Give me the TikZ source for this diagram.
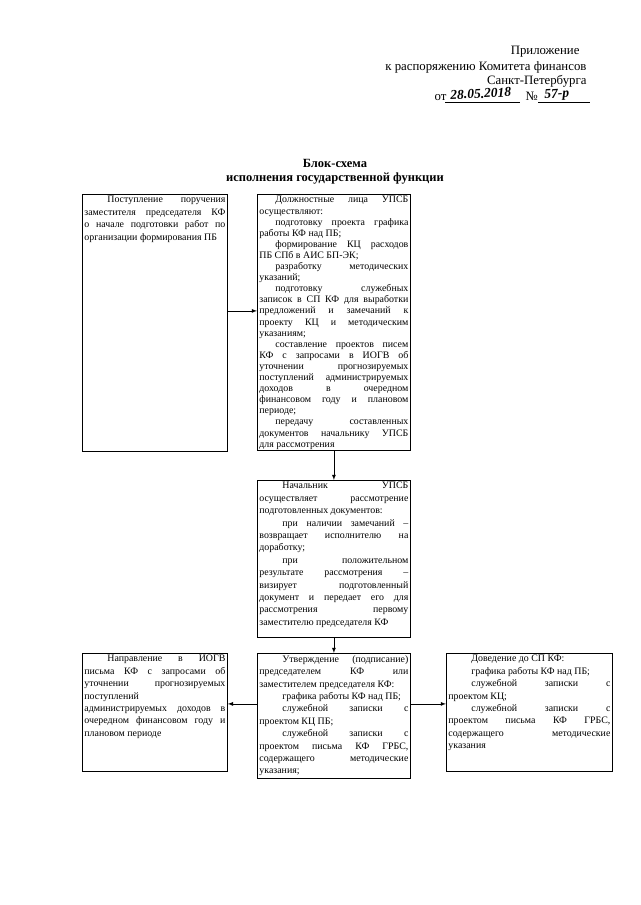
\documentclass[tikz,border=0pt]{standalone}
\usepackage{fontspec}
\setmainfont{Liberation Serif}
\newcommand{\abz}{\hspace*{23pt}}
\newcommand{\abzk}{\hspace*{16pt}}
\tolerance=10000
\hyphenpenalty=10000
\tikzset{
  blok/.style={draw, line width=0.8pt, anchor=north west, inner xsep=2pt, inner ysep=2pt,
    font=\fontsize{9.9}{12.4}\selectfont},
  strelka/.style={->, line width=0.8pt},
  shapka/.style={font=\fontsize{12.8}{15}\selectfont},
  ruka/.style={font=\fontsize{13.5}{15}\bfseries\itshape\selectfont}
}
\begin{document}
\begin{tikzpicture}[x=1pt,y=-1pt,>=latex]
  \useasboundingbox (0,0) rectangle (640,905);

  % shapka
  \node[shapka, anchor=base east] (pril) at (583,54) {Приложение};
  \node[shapka, anchor=base east] (rasp) at (590,70) {к распоряжению Комитета финансов};
  \node[shapka, anchor=base east] (spb) at (590,84) {Санкт-Петербурга};
  \node[shapka, anchor=base west] (ot) at (431,100) {от};
  \draw (445,102) -- (520,102);
  \node[ruka, anchor=base, rotate=3] (data) at (481,98) {28.05.2018};
  \node[shapka, anchor=base west] (nomer) at (522,100) {№};
  \draw (538,102) -- (590,102);
  \node[ruka, anchor=base, rotate=3] (nr) at (557,98) {57-р};

  \node[font=\fontsize{12.5}{14}\bfseries\selectfont, anchor=base] (zag1) at (335,167) {Блок-схема};
  \node[font=\fontsize{12.5}{14}\bfseries\selectfont, anchor=base] (zag2) at (335,181) {исполнения государственной функции};

  % bloki
  \node[blok] (post) at (82,194) {\parbox[t][253pt][t]{141pt}{%
    \abz Поступление поручения\linebreak заместителя председателя КФ\linebreak о начале подготовки работ по\linebreak организации формирования ПБ}};

  \node[blok, font=\fontsize{9.9}{11.1}\selectfont] (dolzh) at (257,194) {\parbox[t][252pt][t]{149pt}{%
    \abzk Должностные лица УПСБ\linebreak осуществляют:\par
    \abzk подготовку проекта графика\linebreak работы КФ над ПБ;\par
    \abzk формирование КЦ расходов\linebreak ПБ СПб в АИС БП-ЭК;\par
    \abzk разработку методических\linebreak указаний;\par
    \abzk подготовку служебных\linebreak записок в СП КФ для выработки\linebreak предложений и замечаний к\linebreak проекту КЦ и методическим\linebreak указаниям;\par
    \abzk составление проектов писем\linebreak КФ с запросами в ИОГВ об\linebreak уточнении прогнозируемых\linebreak поступлений администрируемых\linebreak доходов в очередном\linebreak финансовом году и плановом\linebreak периоде;\par
    \abzk передачу составленных\linebreak документов начальнику УПСБ\linebreak для рассмотрения}};

  \node[blok] (nach) at (257,480) {\parbox[t][153pt][t]{149pt}{%
    \abz Начальник УПСБ\linebreak осуществляет рассмотрение\linebreak подготовленных документов:\par
    \abz при наличии замечаний –\linebreak возвращает исполнителю на\linebreak доработку;\par
    \abz при положительном\linebreak результате рассмотрения –\linebreak визирует подготовленный\linebreak документ и передает его для\linebreak рассмотрения первому\linebreak заместителю председателя КФ}};

  \node[blok] (utv) at (257,653) {\parbox[t][121pt][t]{149pt}{%
    \abz Утверждение (подписание)\linebreak председателем КФ или\linebreak заместителем председателя КФ:\par
    \abz графика работы КФ над ПБ;\par
    \abz служебной записки с\linebreak проектом КЦ ПБ;\par
    \abz служебной записки с\linebreak проектом письма КФ ГРБС,\linebreak содержащего методические\linebreak указания;}};

  \node[blok] (napr) at (82,653) {\parbox[t][114pt][t]{141pt}{%
    \abz Направление в ИОГВ\linebreak письма КФ с запросами об\linebreak уточнении прогнозируемых\linebreak поступлений\newline администрируемых доходов в\linebreak очередном финансовом году и\linebreak плановом периоде}};

  \node[blok] (dov) at (446,653) {\parbox[t][114pt][t]{162pt}{%
    \abz Доведение до СП КФ:\par
    \abz графика работы КФ над ПБ;\par
    \abz служебной записки с\linebreak проектом КЦ;\par
    \abz служебной записки с\linebreak проектом письма КФ ГРБС,\linebreak содержащего методические\linebreak указания}};

  % strelki
  \draw[strelka] ([yshift=12pt]post.east) -- ([yshift=12pt]post.east -| dolzh.west);
  \draw[strelka] (dolzh.south) -- (nach.north);
  \draw[strelka] (nach.south) -- (utv.north);
  \draw[strelka] ([yshift=12pt]utv.west) -- ([yshift=12pt]utv.west -| napr.east);
  \draw[strelka] ([yshift=12pt]utv.east) -- ([yshift=12pt]utv.east -| dov.west);
\end{tikzpicture}
\end{document}
